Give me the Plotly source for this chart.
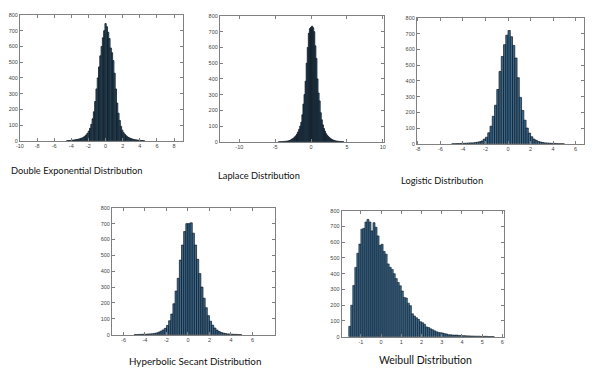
import numpy as np
import plotly.graph_objects as go

W, H = 598, 372
OFF = 8  # the page body adds an 8px margin, so positions are shifted back by it

# ---------------- data ----------------
# Double Exponential: bin width 0.15, centres -4.50 .. 4.50
dexp_start, dexp_width = -4.50, 0.15
dexp_counts = [1, 2, 2, 3, 4, 5, 6, 8, 9, 11, 13, 16, 19, 24, 30, 38, 48, 62, 80, 105,
               140, 185, 250, 330, 400, 470, 540, 600, 655, 700, 745, 725, 690, 650, 590,
               560, 510, 430, 330, 240, 175, 130, 92, 68, 52, 42, 33, 26, 21, 17,
               14, 11, 9, 7, 6, 5, 4, 3, 2, 2, 1]

# Laplace: bin width 0.15, centres -4.50 .. 4.50
lap_start, lap_width = -4.50, 0.15
lap_counts = [1, 1, 2, 2, 2, 3, 3, 4, 5, 6, 8, 11, 16, 20, 25, 32, 39, 50, 63, 80,
              100, 125, 172, 240, 300, 385, 500, 600, 690, 720, 728, 735, 725, 700, 610,
              530, 400, 310, 260, 185, 140, 108, 85, 68, 52, 42, 34, 27, 22, 17,
              13, 10, 8, 6, 5, 4, 3, 3, 2, 2, 1]

# Logistic: bin width 0.2, centres -4.9 .. 4.9
log_start, log_width = -4.9, 0.2
log_counts = [1, 1, 2, 2, 3, 3, 4, 5, 6, 6, 8, 10, 13, 18, 30, 42, 70, 112, 175, 245,
              345, 460, 555, 630, 690, 720, 680, 625, 545, 420, 295, 212, 150, 100, 68,
              45, 30, 22, 15, 11, 8, 6, 5, 4, 3, 3, 2, 1, 1, 1]

# Hyperbolic secant: bin width 0.2, centres -4.9 .. 4.9
hs_start, hs_width = -4.9, 0.2
hs_counts = [1, 1, 2, 2, 3, 3, 4, 5, 6, 8, 11, 16, 22, 30, 40, 58, 88, 130, 195, 275,
             355, 470, 565, 650, 700, 700, 705, 640, 565, 475, 385, 300, 230, 170, 120,
             85, 60, 42, 29, 20, 14, 10, 7, 5, 4, 3, 2, 2, 1, 1]

# Weibull: bin width 0.1, centres from -1.55
wb_start, wb_width = -1.55, 0.1
wb_counts = [66, 200, 325, 440, 530, 588, 683, 688, 728, 745, 728, 672, 724, 695, 640,
             580, 587, 541, 524, 462, 441, 427, 400, 369, 344, 323, 290, 249, 245, 213,
             197, 145, 131, 120, 110, 95, 89, 79, 62, 58, 50, 44, 37, 31, 27,
             25, 23, 19, 17, 12, 12, 10, 10, 10, 8, 8, 6, 6, 5, 5,
             4, 4, 3, 3, 3, 2, 2, 2, 2, 1, 1, 1]

titles = ["Double Exponential Distribution", "Laplace Distribution", "Logistic Distribution",
          "Hyperbolic Secant Distribution", "Weibull Distribution"]

x_tick_vals = [
    [-10, -8, -6, -4, -2, 0, 2, 4, 6, 8],
    [-10, -5, 0, 5, 10],
    [-8, -6, -4, -2, 0, 2, 4, 6],
    [-6, -4, -2, 0, 2, 4, 6],
    [-1, 0, 1, 2, 3, 4, 5, 6],
]
y_tick_vals = [0, 100, 200, 300, 400, 500, 600, 700, 800]

# ---------------- layout geometry (screen pixels) ----------------
boxes = [  # left, right, top, bottom
    (16, 181, 12, 140),
    (218, 384, 13, 141),
    (417, 586, 15, 143),
    (109, 274, 208, 337),
    (341, 505, 211, 339),
]
x_ranges = [(-10.0, 9.07), (-12.7, 10.2), (-8.09, 6.76), (-7.07, 8.13), (-1.95, 6.08)]
title_pos = [  # centre x, centre y, size
    (73.5, 170.5, 9.3),
    (258, 175, 9.3),
    (442, 180, 9.3),
    (193, 364, 9.8),
    (425.5, 363, 10.5),
]
line_widths = [0.8, 0.8, 0.7, 0.7, 0.6]

series = [
    (dexp_start, dexp_width, dexp_counts),
    (lap_start, lap_width, lap_counts),
    (log_start, log_width, log_counts),
    (hs_start, hs_width, hs_counts),
    (wb_start, wb_width, wb_counts),
]


def px_x(v):
    return (v - OFF) / W


def px_y(v):
    return 1 - (v - OFF) / H


fig = go.Figure()
layout = dict(width=W, height=H, margin=dict(l=0, r=0, t=0, b=0),
              paper_bgcolor="white", plot_bgcolor="white", showlegend=False,
              barmode="overlay", annotations=[])

axis_common = dict(showgrid=False, zeroline=False, showline=True, mirror="ticks",
                   linecolor="#808080", linewidth=1, ticks="inside", ticklen=3,
                   tickcolor="#808080", tickwidth=0.8,
                   tickfont=dict(family="Liberation Sans, Arial, sans-serif", size=5.5, color="#444"))

for i, ((start, width, counts), box, xr, xt, lw) in enumerate(
        zip(series, boxes, x_ranges, x_tick_vals, line_widths)):
    n = i + 1
    xa = "x" if n == 1 else f"x{n}"
    ya = "y" if n == 1 else f"y{n}"
    centres = start + width * np.arange(len(counts))
    fig.add_trace(go.Bar(x=centres, y=counts, width=width, xaxis=xa, yaxis=ya,
                         marker=dict(color="#3a6a90", line=dict(color="#0e161e", width=lw))))
    l, r, t, b = box
    layout["xaxis" if n == 1 else f"xaxis{n}"] = dict(
        axis_common, domain=[px_x(l), px_x(r)], range=list(xr), anchor=ya,
        tickmode="array", tickvals=xt, ticktext=[str(v) for v in xt])
    layout["yaxis" if n == 1 else f"yaxis{n}"] = dict(
        axis_common, domain=[px_y(b), px_y(t)], range=[0, 800], anchor=xa,
        tickmode="array", tickvals=y_tick_vals, ticktext=[str(v) for v in y_tick_vals])

for txt, (tx, ty, sz) in zip(titles, title_pos):
    layout["annotations"].append(dict(
        text=txt, xref="paper", yref="paper", x=px_x(tx), y=px_y(ty),
        xanchor="center", yanchor="middle", showarrow=False,
        font=dict(family="Lato, Open Sans, sans-serif", size=sz, color="#111")))

fig.update_layout(**layout)
fig.write_html("out.html")
